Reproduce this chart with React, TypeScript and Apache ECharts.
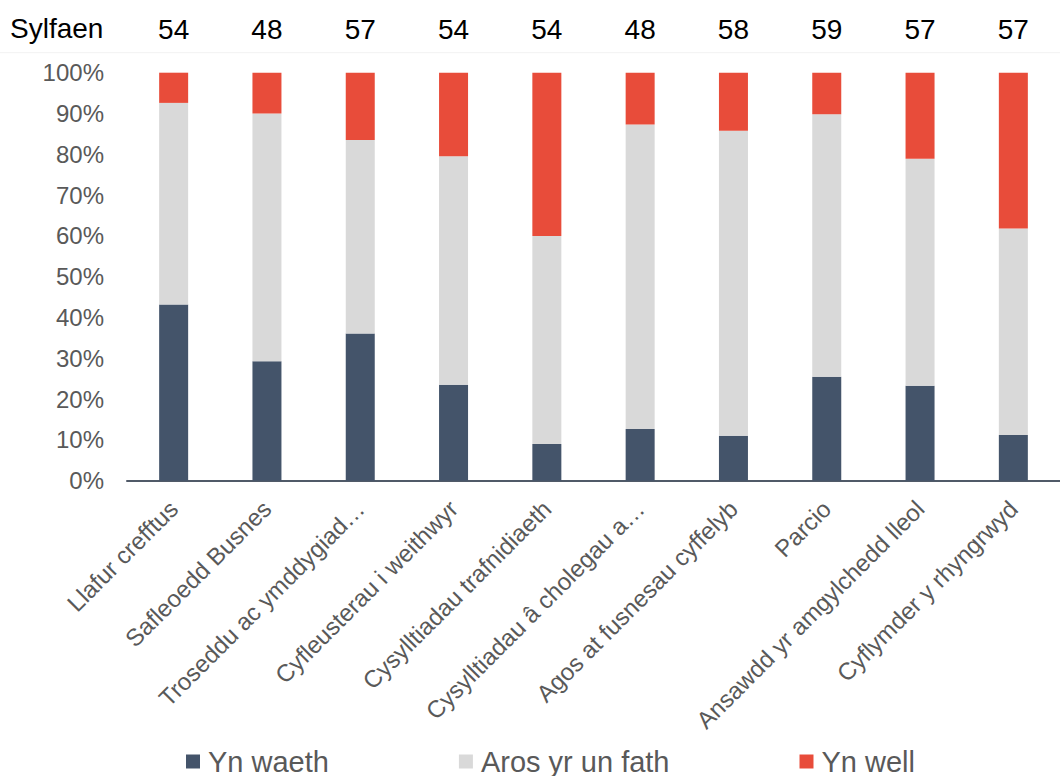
import React, { useEffect, useRef } from "react";
import * as echarts from "echarts";

const categories = [
  "Llafur crefftus",
  "Safleoedd Busnes",
  "Troseddu ac ymddygiad…",
  "Cyfleusterau i weithwyr",
  "Cysylltiadau trafnidiaeth",
  "Cysylltiadau â cholegau a…",
  "Agos at fusnesau cyffelyb",
  "Parcio",
  "Ansawdd yr amgylchedd lleol",
  "Cyflymder y rhyngrwyd",
];
const bases = ["54", "48", "57", "54", "54", "48", "58", "59", "57", "57"];
const ynWaeth = [43.2, 29.3, 36.1, 23.5, 9.0, 12.7, 11.0, 25.5, 23.3, 11.2];
const arosYrUnFath = [49.4, 60.7, 47.4, 56.0, 51.0, 74.6, 74.8, 64.3, 55.6, 50.6];
const ynWell = [7.4, 10.0, 16.5, 20.5, 40.0, 12.7, 14.2, 10.2, 21.1, 38.2];
const yTicks = [0, 10, 20, 30, 40, 50, 60, 70, 80, 90, 100];

const FONT = "'Liberation Sans', Arial, sans-serif";
const GREY_TEXT = "#595959";

export default function App() {
  const ref = useRef<HTMLDivElement>(null);
  useEffect(() => {
    if (!ref.current) return;
    const chart = echarts.init(ref.current, null, { renderer: "svg" });
    chart.setOption({
      animation: false,
      textStyle: { fontFamily: FONT },
      grid: { left: 127, right: 0, top: 72.7, bottom: 295.3, containLabel: false },
      legend: {
        bottom: 0,
        left: 186,
        padding: 0,
        itemGap: 130,
        itemWidth: 14,
        itemHeight: 14,
        icon: "rect",
        textStyle: { fontSize: 29, color: GREY_TEXT, fontFamily: FONT, padding: [0, 0, 0, 3] },
        data: ["Yn waeth", "Aros yr un fath", "Yn well"],
      },
      graphic: [
        {
          type: "text",
          left: 10,
          top: 14,
          style: { text: "Sylfaen", fontSize: 28, fill: "#000", fontFamily: FONT },
        },
        {
          type: "line",
          shape: { x1: 0, y1: 52.7, x2: 1060, y2: 52.7 },
          style: { stroke: "#f2f2f2", lineWidth: 1 },
        },
      ],
      xAxis: [
        {
          type: "category",
          data: categories,
          axisLine: { lineStyle: { color: "#505a68", width: 2 } },
          axisTick: { show: false },
          axisLabel: {
            interval: 0,
            rotate: 45,
            fontSize: 24,
            color: GREY_TEXT,
            margin: 24,
            fontFamily: FONT,
          },
        },
        {
          type: "category",
          position: "top",
          data: bases,
          offset: 43,
          axisLine: { show: false },
          axisTick: { show: false },
          axisLabel: {
            interval: 0,
            fontSize: 28,
            color: "#000",
            margin: 0,
            verticalAlign: "middle",
            fontFamily: FONT,
          },
        },
      ],
      yAxis: {
        type: "value",
        min: yTicks[0],
        max: yTicks[yTicks.length - 1],
        interval: 10,
        splitLine: { show: false },
        axisLine: { show: false },
        axisTick: { show: false },
        axisLabel: {
          formatter: "{value}%",
          fontSize: 24,
          color: GREY_TEXT,
          margin: 23,
          fontFamily: FONT,
        },
      },
      series: [
        {
          name: "Yn waeth",
          type: "bar",
          stack: "total",
          barWidth: 29,
          data: ynWaeth,
          itemStyle: { color: "#44546a" },
        },
        {
          name: "Aros yr un fath",
          type: "bar",
          stack: "total",
          barWidth: 29,
          data: arosYrUnFath,
          itemStyle: { color: "#d9d9d9" },
        },
        {
          name: "Yn well",
          type: "bar",
          stack: "total",
          barWidth: 29,
          data: ynWell,
          itemStyle: { color: "#e84c3a" },
        },
      ],
    });
    return () => chart.dispose();
  }, []);
  return (
    <div
      ref={ref}
      style={{ position: "fixed", left: 0, top: 0, width: 1060, height: 776, background: "#fff" }}
    />
  );
}
